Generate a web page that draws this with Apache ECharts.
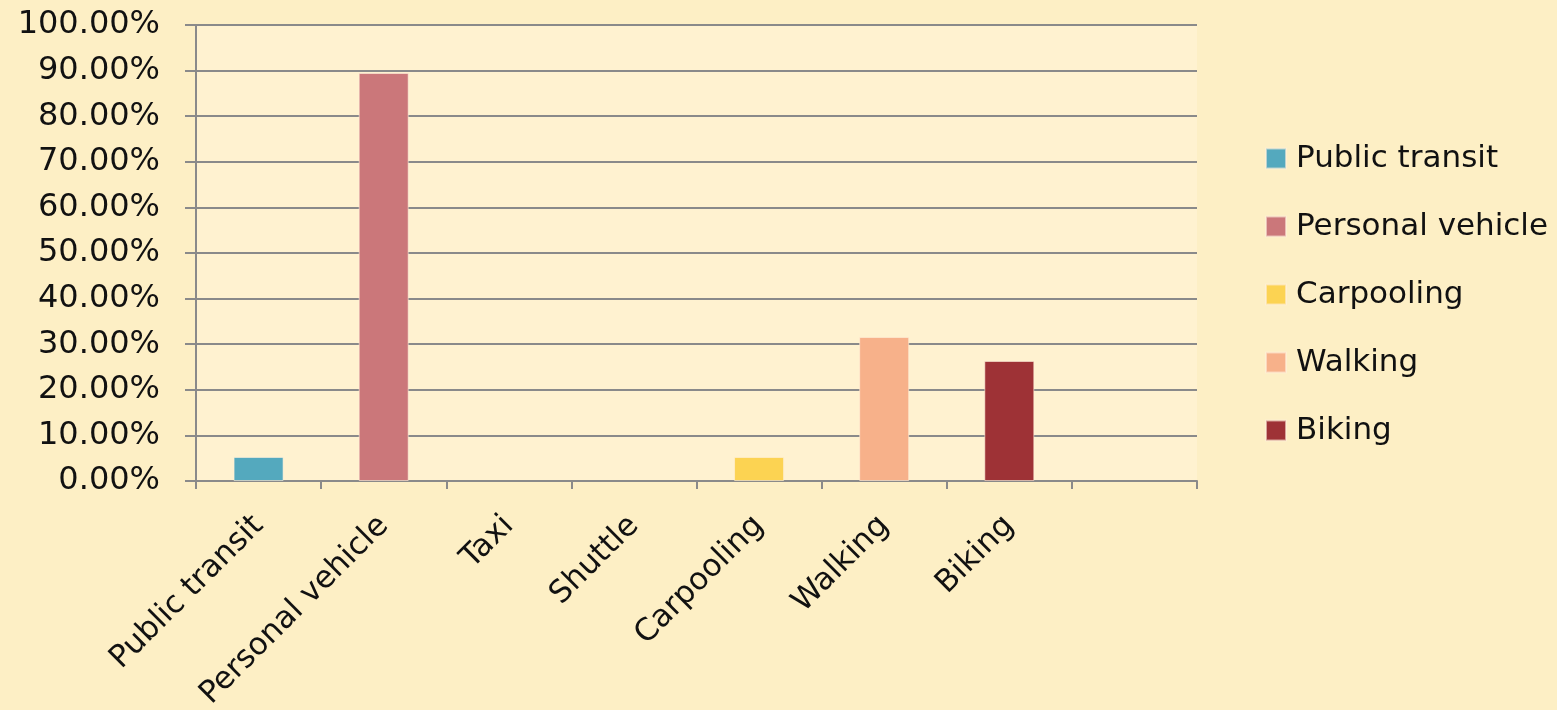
<!DOCTYPE html>
<html>
<head>
<meta charset="utf-8">
<script src="https://cdn.jsdelivr.net/npm/echarts@6/dist/echarts.min.js"></script>
<style>
  html, body { margin:0; padding:0; background:#fdefc5; }
  #chart { width:1557px; height:710px; }
</style>
</head>
<body>
<div id="chart"></div>
<script>
// categories on the x axis (last one is empty in the source)
const categories = ['Public transit', 'Personal vehicle', 'Taxi', 'Shuttle', 'Carpooling', 'Walking', 'Biking', '']

// one series per mode, value in percent at its own category
const seriesNames  = ['Public transit', 'Personal vehicle', 'Carpooling', 'Walking', 'Biking']
const seriesIndex  = [0, 1, 4, 5, 6]
const seriesValues = [5.26, 89.47, 5.26, 31.58, 26.32]
const seriesColors = ['#54a9be', '#cb777a', '#fcd352', '#f7b18a', '#9e3236']

const FONT = 'DejaVu Sans'

const series = seriesNames.map((name, i) => {
  const data = categories.map(() => null)
  data[seriesIndex[i]] = seriesValues[i]
  return {
    name, type: 'bar', stack: 'all', data,
    barWidth: 50,
    itemStyle: { color: seriesColors[i], borderColor: 'rgba(255,240,220,0.6)', borderWidth: 1 }
  }
})

const chart = echarts.init(document.getElementById('chart'))
chart.setOption({
  backgroundColor: '#fdefc5',
  animation: false,
  grid: {
    left: 196, right: 360, top: 25, bottom: 229,
    outerBoundsMode: 'none', containLabel: false,
    show: true, backgroundColor: '#fff2d0', borderWidth: 0
  },
  legend: {
    orient: 'vertical', left: 1260, top: 138,
    itemWidth: 20, itemHeight: 20, itemGap: 37,
    icon: 'rect',
    textStyle: { fontFamily: FONT, fontSize: 31, color: '#111', padding: [0, 0, 0, 5] },
    data: seriesNames
  },
  xAxis: {
    type: 'category', data: categories,
    axisLine: { lineStyle: { color: '#8a8a8a', width: 2 } },
    axisTick: { show: true, length: 8, alignWithLabel: false, lineStyle: { color: '#8a8a8a', width: 2 } },
    axisLabel: { rotate: 45, interval: 0, fontFamily: FONT, fontSize: 31, color: '#111', margin: 40 },
    splitLine: { show: false }
  },
  yAxis: {
    type: 'value', min: 0, max: 100, interval: 10,
    axisLine: { show: true, lineStyle: { color: '#8a8a8a', width: 2 } },
    axisTick: { show: true, length: 11, lineStyle: { color: '#8a8a8a', width: 2 } },
    axisLabel: {
      fontFamily: FONT, fontSize: 32, color: '#111', margin: 36,
      formatter: v => v.toFixed(2) + '%'
    },
    splitLine: { lineStyle: { color: '#8a8a8a', width: 2 } }
  },
  series
})
</script>
</body>
</html>
